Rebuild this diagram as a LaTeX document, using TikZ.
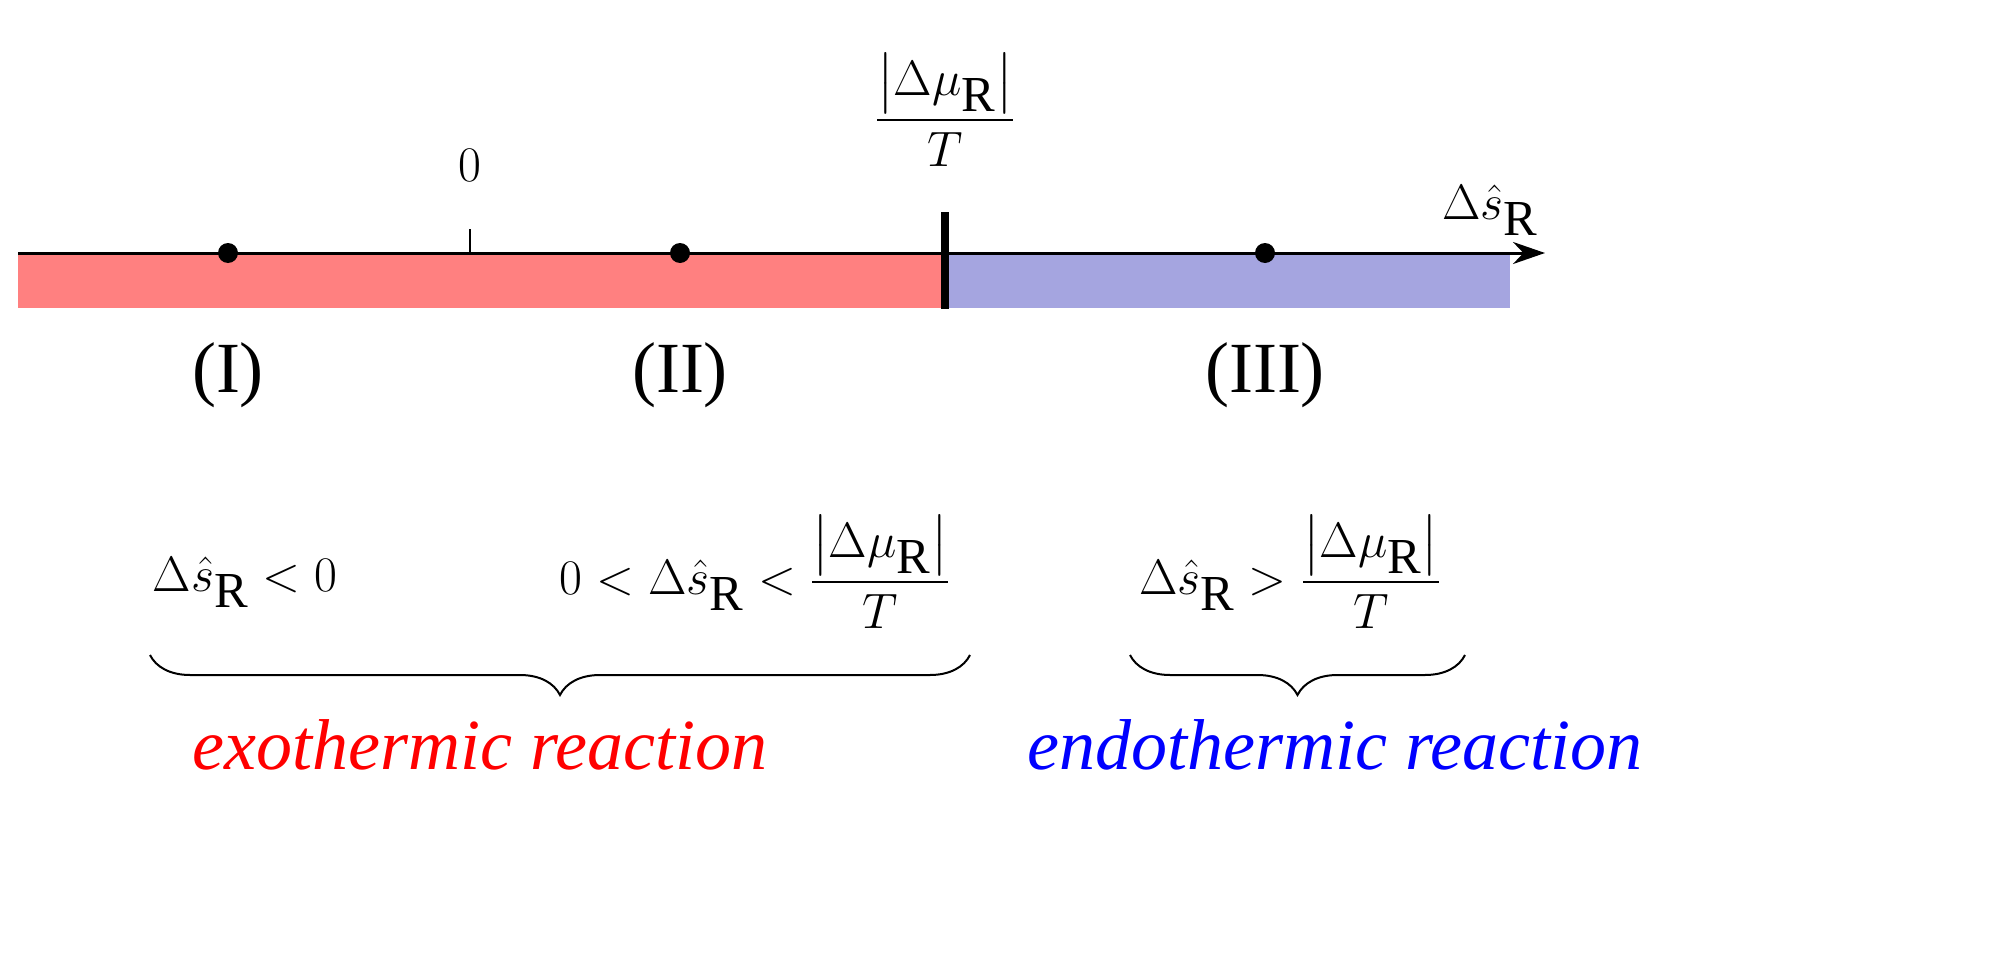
\documentclass[tikz,border=0pt]{standalone}
\usepackage{amsmath}
\usepackage{fontspec}
\setmainfont{Liberation Serif}
\usetikzlibrary{decorations.pathreplacing,arrows.meta}
\definecolor{exo}{HTML}{FF8080}
\definecolor{endo}{HTML}{A5A5E0}
\begin{document}
\begin{tikzpicture}[x=0.5pt,y=-0.5pt,
  lab/.style={inner sep=0pt,font=\fontsize{36}{42}\selectfont},
  dot/.style={circle,fill=black,inner sep=0pt,minimum size=10pt},
  brc/.style={decorate,decoration={brace,mirror,amplitude=20pt},line width=1pt}]
\useasboundingbox (0,0) rectangle (1992,979);
\fill[exo] (18,253) rectangle (945,308);
\fill[endo] (945,253) rectangle (1510,308);
\coordinate (a0) at (18,253);
\coordinate (a1) at (1545,253);
\draw[line width=1.5pt,-{Stealth[length=16pt,width=11pt]}] (a0) -- (a1);
\coordinate (t0) at (470,229);
\coordinate (t1) at (470,253);
\draw[line width=1.2pt] (t0) -- (t1);
\coordinate (b0) at (945,212);
\coordinate (b1) at (945,309);
\draw[line width=4pt] (b0) -- (b1);
\node[dot] (d1) at (228,253) {};
\node[dot] (d2) at (680,253) {};
\node[dot] (d3) at (1265,253) {};
\node[lab] (zero) at (470,165) {$0$};
\node[lab] (frac) at (945,110) {$\dfrac{\left|\Delta\mu_{\mathrm{R}}\right|}{T}$};
\node[lab] (ax) at (1490,210) {$\Delta\hat{s}_{\mathrm{R}}$};
\node[lab] (r1) at (228,375) {(I)};
\node[lab] (r2) at (680,375) {(II)};
\node[lab] (r3) at (1265,375) {(III)};
\node[lab] (c1) at (245,582) {$\Delta\hat{s}_{\mathrm{R}}<0$};
\node[lab] (c2) at (755,572) {$0<\Delta\hat{s}_{\mathrm{R}}<\dfrac{\left|\Delta\mu_{\mathrm{R}}\right|}{T}$};
\node[lab] (c3) at (1290,572) {$\Delta\hat{s}_{\mathrm{R}}>\dfrac{\left|\Delta\mu_{\mathrm{R}}\right|}{T}$};
\coordinate (e0) at (150,655);
\coordinate (e1) at (970,655);
\coordinate (n0) at (1130,655);
\coordinate (n1) at (1465,655);
\draw[brc] (e0) -- (e1);
\draw[brc] (n0) -- (n1);
\node[lab,text=red,font=\fontsize{36}{42}\selectfont\itshape] (exo) at (480,745) {exothermic reaction};
\node[lab,text=blue,font=\fontsize{36}{42}\selectfont\itshape] (endo) at (1335,745) {endothermic reaction};
\end{tikzpicture}
\end{document}
